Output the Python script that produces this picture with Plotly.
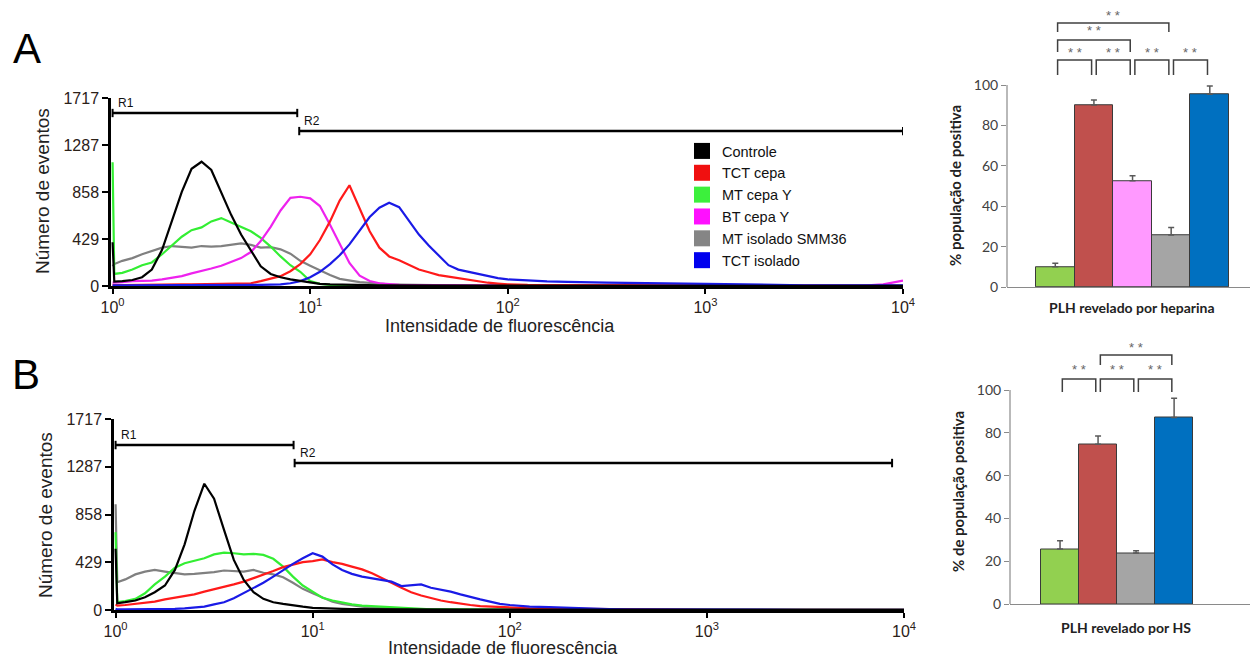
import math
import plotly.graph_objects as go

# The page body has an 8px margin, so the figure is drawn at (8, 8) in the window.
OFF = 8
W, H = 1258 - OFF, 660 - OFF

# ---------------- data ----------------
# shared fluorescence-intensity channels (x grid of the histograms)
intensity = [1.00, 1.02, 1.12, 1.26, 1.41, 1.58, 1.78, 2.00, 2.24, 2.51, 2.82, 3.16, 3.55, 3.98,
             4.47, 5.01, 5.62, 6.31, 7.08, 7.94, 8.91, 10.0, 11.2, 12.6, 14.1, 15.8, 17.8, 20.0,
             22.4, 25.1, 28.2, 31.6, 35.5, 39.8, 44.7, 50.1, 56.2, 63.1, 70.8, 79.4, 89.1, 100,
             126, 158, 200, 251, 316, 398, 501, 631, 794, 1000, 1259, 1585, 1995, 2512, 3162,
             3981, 5012, 6310, 7943, 10000]

series_names = ["Controle", "TCT cepa", "MT cepa Y", "BT cepa Y", "MT isolado SMM36", "TCT isolado"]

# Panel A histograms (events per channel)
a_controle = [400, 40, 45, 55, 80, 150, 330, 590, 860, 1070, 1135, 1060, 850, 650, 470, 320, 180, 110, 80, 60,
              45, 30, 20, 15, 12, 10, 8, 8, 6, 6,
              5, 5, 5, 4, 4, 4, 3, 3, 3, 3, 3, 3,
              2, 2, 2, 2, 2, 2, 2, 2, 2, 2, 2, 2, 2, 2, 2, 2, 2, 2, 2, 2]
a_tct_cepa = [10, 8, 8, 10, 10, 12, 12, 12, 14, 14, 15, 15, 16, 18, 20,
              25, 45, 65, 90, 135, 200, 290, 420, 590, 780, 920, 700, 500, 350, 270, 235, 190, 150, 125,
              100, 85, 72, 55, 40, 30, 22, 15,
              10, 8, 6, 5, 5, 4, 3, 3, 3, 2, 2, 2, 2, 2, 2, 2, 2, 2, 2, 2]
a_mt_cepa_y = [1130, 110, 120, 150, 190, 215, 290, 370, 450, 510, 535, 590, 620, 580, 540, 500, 440, 360, 270, 190,
               130, 45, 20, 10, 8, 6, 5, 5, 4, 4,
               3, 3, 3, 3, 3, 3, 3, 3, 3, 3, 3, 3,
               2, 2, 2, 2, 2, 2, 2, 2, 2, 2, 2, 2, 2, 2, 2, 2, 2, 2, 2, 2]
a_bt_cepa_y = [30, 30, 35, 45, 45, 50, 60, 75, 90, 115, 135, 160, 185, 220, 255, 310, 410, 540, 690, 805,
               815, 800, 730, 560, 380, 210, 95, 45, 25, 15,
               10, 8, 8, 6, 6, 5, 5, 5, 4, 4, 4, 4,
               3, 3, 3, 3, 3, 3, 3, 3, 3, 3, 3, 3, 3, 3, 3, 3, 3, 3, 15, 50]
a_mt_smm36 = [180, 200, 230, 255, 290, 320, 350, 365, 355, 350, 365, 360, 365, 380, 390, 375, 350, 355, 335, 295,
              230, 185, 140, 100, 65, 50, 35, 28, 20, 15,
              12, 10, 8, 6, 6, 5, 5, 4, 4, 4, 3, 3,
              2, 2, 2, 2, 2, 2, 2, 2, 2, 2, 2, 2, 2, 2, 2, 2, 2, 2, 2, 2]
a_tct_isolado = [5, 5, 5, 5, 5, 6, 6, 6, 7, 7, 8, 8, 8, 9, 9, 10, 10, 12, 15,
                 25, 45, 80, 130, 200, 280, 380, 510, 630, 715, 760, 720, 600, 470, 370, 280, 190, 150, 130,
                 105, 85, 72, 60,
                 50, 42, 38, 32, 30, 28, 25, 22, 20, 18, 15, 12, 10, 8, 7, 6, 6, 5, 5, 5]

# Panel B histograms
b_controle = [550, 60, 70, 85, 115, 160, 220, 360, 590, 890, 1135, 1000, 720, 450, 270, 160, 100, 70, 55, 40,
              30, 20, 15, 12, 10, 8, 7, 6, 5, 5,
              4, 4, 4, 4, 4, 4, 3, 3, 3, 3, 3, 3,
              2, 2, 2, 2, 2, 2, 2, 2, 2, 2, 2, 2, 2, 2, 2, 2, 2, 2, 2, 2]
b_tct_cepa = [50, 40, 45, 55, 60, 75, 95, 110, 125, 140, 165, 185, 210, 230, 255, 285, 320, 350, 385, 410,
              430, 440, 455, 430, 415, 390, 365, 330, 290, 245,
              200, 160, 130, 105, 85, 70, 55, 45, 35, 30, 25, 20,
              15, 12, 10, 10, 8, 6, 5, 3, 2, 2, 2, 2, 2, 2, 2, 2, 2, 2, 2, 2]
b_mt_cepa_y = [700, 70, 80, 100, 150, 230, 300, 380, 420, 445, 465, 500, 515, 510, 500, 505, 495, 460, 390, 300,
               220, 165, 110, 85, 65, 50, 40, 35, 25, 20,
               15, 12, 8, 6, 6, 5, 5, 4, 4, 3, 3, 3,
               2, 2, 2, 2, 2, 2, 2, 2, 2, 2, 2, 2, 2, 2, 2, 2, 2, 2, 2, 2]
b_mt_smm36 = [950, 250, 275, 320, 345, 360, 345, 330, 320, 325, 330, 340, 355, 350, 345, 360, 335, 320, 295, 245,
              190, 150, 110, 75, 55, 40, 30, 22, 18, 14,
              10, 8, 6, 5, 5, 4, 4, 3, 3, 3, 3, 3,
              2, 2, 2, 2, 2, 2, 2, 2, 2, 2, 2, 2, 2, 2, 2, 2, 2, 2, 2, 2]
b_tct_isolado = [10, 5, 5, 5, 5, 8, 10, 10, 15, 20, 30, 50, 70, 105, 150, 195, 245, 300, 360, 415,
                 465, 510, 480, 410, 360, 325, 300, 285, 270, 255,
                 215, 225, 230, 200, 185, 165, 140, 115, 95, 75, 55, 45,
                 30, 25, 18, 12, 8, 5, 4, 3, 3, 2, 2, 2, 2, 2, 2, 2, 2, 2, 2, 2]

# gates (label, intensity start, intensity end, event level)
gates_a = [("R1", 1.0, 8.6, 1580), ("R2", 8.8, 10000, 1415)]
gates_b = [("R1", 1.0, 8.0, 1483), ("R2", 8.1, 8700, 1321)]

hist_ticks = [0, 429, 858, 1287, 1717]

# bar charts
bar_a_labels = ["MT cepa Y", "TCT cepa", "BT cepa Y", "MT isolado SMM36", "TCT isolado"]
bar_a_values = [10.0, 90.1, 52.6, 25.7, 95.4]
bar_a_errors = [1.7, 2.5, 2.5, 3.7, 4.1]
bar_a_sig = [(0, 1, 1), (1, 2, 1), (2, 3, 1), (3, 4, 1), (0, 2, 2), (0, 3, 3)]

bar_b_labels = ["MT cepa Y", "TCT cepa", "MT isolado SMM36", "TCT isolado"]
bar_b_values = [25.7, 74.6, 23.8, 87.1]
bar_b_errors = [3.8, 3.9, 1.1, 9.0]
bar_b_sig = [(0, 1, 1), (1, 2, 1), (2, 3, 1), (1, 3, 2)]

bar_ticks = [0, 20, 40, 60, 80, 100]

# ---------------- styles ----------------
line_colors = {"Controle": "#000000", "TCT cepa": "#FF1A1A", "MT cepa Y": "#33EE33",
               "BT cepa Y": "#EE22EE", "MT isolado SMM36": "#808080", "TCT isolado": "#1A1AE6"}
legend_colors = {"Controle": "#000000", "TCT cepa": "#F01010", "MT cepa Y": "#3CF03C",
                 "BT cepa Y": "#FF10FF", "MT isolado SMM36": "#858585", "TCT isolado": "#0000EE"}
bar_colors = {"MT cepa Y": "#92D050", "TCT cepa": "#C0504D", "BT cepa Y": "#FF99FF",
              "MT isolado SMM36": "#A5A5A5", "TCT isolado": "#0070C0"}

ARIAL = "Liberation Sans, Arial, sans-serif"
CAL = "Lato, Liberation Sans, sans-serif"
TICKC = "#2b2118"


def px_x(p):
    """window pixel -> paper fraction"""
    return (p - OFF) / W


def px_y(p):
    return 1 - (p - OFF) / H


fig = go.Figure()

draw_order = ["MT isolado SMM36", "MT cepa Y", "BT cepa Y", "TCT cepa", "TCT isolado", "Controle"]
panel_a = {"Controle": a_controle, "TCT cepa": a_tct_cepa, "MT cepa Y": a_mt_cepa_y,
           "BT cepa Y": a_bt_cepa_y, "MT isolado SMM36": a_mt_smm36, "TCT isolado": a_tct_isolado}
panel_b = {"Controle": b_controle, "TCT cepa": b_tct_cepa, "MT cepa Y": b_mt_cepa_y,
           "MT isolado SMM36": b_mt_smm36, "TCT isolado": b_tct_isolado}

for panel, xa, ya in [(panel_a, "x", "y"), (panel_b, "x3", "y3")]:
    for name in draw_order:
        if name not in panel:
            continue
        fig.add_trace(go.Scatter(x=intensity, y=panel[name], mode="lines", name=name,
                                 line=dict(color=line_colors[name], width=2.2),
                                 xaxis=xa, yaxis=ya, showlegend=False))

# legend entries (square swatches)
for name in series_names:
    fig.add_trace(go.Scatter(x=[None], y=[None], mode="markers", name=name,
                             marker=dict(symbol="square", size=16, color=legend_colors[name]),
                             xaxis="x", yaxis="y", showlegend=True))

# bars
for labels, values, errors, xa, ya in [(bar_a_labels, bar_a_values, bar_a_errors, "x2", "y2"),
                                       (bar_b_labels, bar_b_values, bar_b_errors, "x4", "y4")]:
    fig.add_trace(go.Bar(x=list(range(len(values))), y=values, width=1,
                         hovertext=labels,
                         marker=dict(color=[bar_colors[l] for l in labels],
                                     line=dict(color="#3a3a3a", width=1)),
                         error_y=dict(type="data", array=errors, arrayminus=[0] * len(errors),
                                      symmetric=False, color="#595959", thickness=1.5, width=3),
                         xaxis=xa, yaxis=ya, showlegend=False))

shapes = []
annotations = []

# gates
cap = 38
for gates, xa, ya in [(gates_a, "x", "y"), (gates_b, "x3", "y3")]:
    for label, g0, g1, lvl in gates:
        shapes.append(dict(type="line", xref=xa, yref=ya, x0=g0, x1=g1, y0=lvl, y1=lvl,
                           line=dict(color="black", width=2.5)))
        for gx in (g0, g1):
            shapes.append(dict(type="line", xref=xa, yref=ya, x0=gx, x1=gx, y0=lvl - cap, y1=lvl + cap,
                               line=dict(color="black", width=2)))
        annotations.append(dict(xref=xa, yref=ya, x=math.log10(g0), y=lvl, text=label, showarrow=False,
                                xanchor="left", yanchor="bottom", xshift=3, yshift=1,
                                font=dict(family=ARIAL, size=12, color="#111")))

# significance brackets
bracket_a_levels = {1: (105.0, 112.4, 116.3), 2: (116.3, 122.3, 127.0), 3: (126.2, 130.7, 134.3)}
bracket_b_levels = {1: (99.1, 105.1, 109.8), 2: (111.7, 116.4, 119.8)}
inset = 0.06
for sig, levels, xa, ya in [(bar_a_sig, bracket_a_levels, "x2", "y2"),
                            (bar_b_sig, bracket_b_levels, "x4", "y4")]:
    for i, j, lv in sig:
        leg, top, star = levels[lv]
        xl, xr = i + inset, j - inset
        shapes.append(dict(type="path", xref=xa, yref=ya,
                           path=f"M {xl},{leg} L {xl},{top} L {xr},{top} L {xr},{leg}",
                           line=dict(color="#404040", width=1.5)))
        annotations.append(dict(xref=xa, yref=ya, x=(xl + xr) / 2, y=star, text="* *", showarrow=False,
                                xanchor="center", yanchor="middle",
                                font=dict(family=ARIAL, size=13, color="#666")))

# bar-chart y axis lines (0..100 only)
for xa, ya in [("x2", "y2"), ("x4", "y4")]:
    shapes.append(dict(type="line", xref=f"{xa} domain", yref=ya, x0=0, x1=0, y0=0, y1=100,
                       line=dict(color="#8a8a8a", width=1.2)))


# text labels
def ann(text, x, y, size, family=ARIAL, angle=0, bold=False, color="#111"):
    t = f"<b>{text}</b>" if bold else text
    annotations.append(dict(xref="paper", yref="paper", x=px_x(x), y=px_y(y), text=t,
                            showarrow=False, xanchor="center", yanchor="middle", textangle=angle,
                            font=dict(family=family, size=size, color=color)))


ann("A", 27, 49, 42, color="#000")
ann("B", 26, 374, 42, color="#000")
ann("Número de eventos", 42, 191, 19, angle=-90, color="#222")
ann("Intensidade de fluorescência", 500, 326, 18, color="#222")
ann("Número de eventos", 46, 515, 19, angle=-90, color="#222")
ann("Intensidade de fluorescência", 503, 648, 18, color="#222")
ann("PLH revelado por heparina", 1132, 307, 14, family=CAL, bold=True, color="#222")
ann("% população de positiva", 955, 186, 15, family=CAL, angle=-90, bold=True, color="#222")
ann("PLH revelado por HS", 1126, 627, 14, family=CAL, bold=True, color="#222")
ann("% de população positiva", 958, 492, 15, family=CAL, angle=-90, bold=True, color="#222")

log_ticks = [1, 10, 100, 1000, 10000]
log_text = [f"10<sup>{k}</sup>" for k in range(5)]

hist_x = dict(type="log", range=[-0.008, 4.0], tickvals=log_ticks, ticktext=log_text,
              ticks="outside", ticklen=5, tickwidth=2, tickcolor="black", automargin=False,
              showline=True, linewidth=2.5, linecolor="black", showgrid=False, zeroline=False,
              tickfont=dict(family=ARIAL, size=16, color=TICKC))
hist_y = dict(range=[0, 1717], tickvals=hist_ticks, ticks="outside", ticklen=6, tickwidth=2,
              tickcolor="black", showline=True, linewidth=2.5, linecolor="black", showgrid=False,
              zeroline=False, automargin=False, tickfont=dict(family=ARIAL, size=16, color=TICKC))
bar_x = dict(showticklabels=False, ticks="", showline=True, linewidth=1.2, linecolor="#8a8a8a",
             showgrid=False, zeroline=False, automargin=False)
bar_y = dict(tickvals=bar_ticks, ticks="outside", ticklen=5, tickwidth=1.2, tickcolor="#8a8a8a",
             showline=False, showgrid=False, zeroline=False, automargin=False,
             tickfont=dict(family=CAL, size=14, color="#404040"))

fig.update_layout(
    width=W, height=H, margin=dict(l=0, r=0, t=0, b=0, pad=0, autoexpand=False),
    paper_bgcolor="white", plot_bgcolor="white",
    xaxis=dict(hist_x, domain=[px_x(111), px_x(903)], anchor="y"),
    yaxis=dict(hist_y, domain=[px_y(286), px_y(98)], anchor="x"),
    xaxis3=dict(hist_x, domain=[px_x(114), px_x(904)], anchor="y3"),
    yaxis3=dict(hist_y, domain=[px_y(610), px_y(419)], anchor="x3"),
    xaxis2=dict(bar_x, domain=[px_x(1007), px_x(1255)], range=[-1.25, 5.17], anchor="y2"),
    yaxis2=dict(bar_y, domain=[px_y(287), px_y(287 - 138 * 2.02)], range=[0, 138], anchor="x2"),
    xaxis4=dict(bar_x, domain=[px_x(1010), px_x(1257)], range=[-1.316, 5.18], anchor="y4"),
    yaxis4=dict(bar_y, domain=[px_y(604), px_y(604 - 125 * 2.14)], range=[0, 125], anchor="x4"),
    legend=dict(x=px_x(682), y=px_y(135), xanchor="left", yanchor="top",
                bgcolor="rgba(0,0,0,0)", font=dict(family=ARIAL, size=14.5, color="#111"),
                itemwidth=30, tracegroupgap=0),
    bargap=0,
    shapes=shapes, annotations=annotations,
)

fig.write_html("out.html")
